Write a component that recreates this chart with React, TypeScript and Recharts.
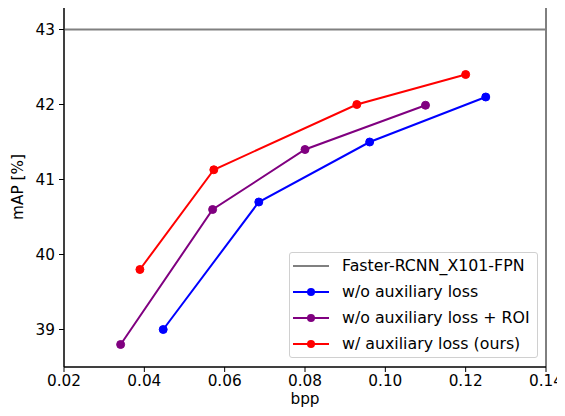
import {
    LineChart,
    Line,
    XAxis,
    YAxis,
    ReferenceLine,
    ReferenceArea,
} from "recharts";

const baselineName = "Faster-RCNN_X101-FPN";
const baselineMap = 43;

const blueBpp = [0.0447, 0.0685, 0.0961, 0.125];
const blueMap = [39.0, 40.7, 41.5, 42.1];

const purpleBpp = [0.0341, 0.057, 0.08, 0.11];
const purpleMap = [38.8, 40.6, 41.4, 41.99];

const redBpp = [0.0389, 0.0573, 0.0929, 0.12];
const redMap = [39.8, 41.13, 42.0, 42.4];

const xTicks = [0.02, 0.04, 0.06, 0.08, 0.1, 0.12, 0.14];
const yTicks = [39, 40, 41, 42, 43];

const series = [
    { name: "w/o auxiliary loss", color: "#0000ff", bpp: blueBpp, map: blueMap },
    { name: "w/o auxiliary loss + ROI", color: "#800080", bpp: purpleBpp, map: purpleMap },
    { name: "w/ auxiliary loss (ours)", color: "#ff0000", bpp: redBpp, map: redMap },
];

const font = "DejaVu Sans, sans-serif";
const fs = 15.3;

const LegendBox = () => (
    <div
        style={{
            position: "absolute",
            left: 289,
            top: 252,
            width: 249,
            height: 106,
            boxSizing: "border-box",
            border: "1px solid #d0d0d0",
            borderRadius: 3,
            background: "rgba(255,255,255,0.8)",
            padding: "0 3px",
            fontFamily: font,
            fontSize: 15.8,
            color: "#000",
            lineHeight: "26px",
            whiteSpace: "nowrap",
        }}
    >
        <div style={{ display: "flex", alignItems: "center" }}>
            <svg width={36} height={12} style={{ marginRight: 13 }}>
                <line x1={0} y1={6} x2={36} y2={6} stroke="#808080" strokeWidth={2} />
            </svg>
            {baselineName}
        </div>
        {series.map((s) => (
            <div key={s.name} style={{ display: "flex", alignItems: "center" }}>
                <svg width={36} height={12} style={{ marginRight: 13 }}>
                    <line x1={0} y1={6} x2={36} y2={6} stroke={s.color} strokeWidth={2} />
                    <circle cx={18} cy={6} r={4} fill={s.color} />
                </svg>
                {s.name}
            </div>
        ))}
    </div>
);

export default function App() {
    return (
        <div style={{ position: "relative", width: 565, height: 416, background: "#fff", margin: -8 }}>
            <LineChart
                width={565}
                height={416}
                margin={{ top: 7, right: 19, left: 0, bottom: 0 }}
            >
                <XAxis
                    type="number"
                    dataKey="bpp"
                    domain={[0.02, 0.14]}
                    ticks={xTicks}
                    tickFormatter={(v: number) => v.toFixed(2)}
                    allowDataOverflow
                    height={49}
                    stroke="#000"
                    tickSize={5}
                    tickMargin={3}
                    tick={{ fill: "#000", fontSize: fs, fontFamily: font }}
                    label={{
                        value: "bpp",
                        position: "insideBottom",
                        offset: 12,
                        fill: "#000",
                        fontSize: fs,
                        fontFamily: font,
                    }}
                />
                <YAxis
                    type="number"
                    dataKey="map"
                    domain={[38.5, 43.3]}
                    ticks={yTicks}
                    allowDataOverflow
                    width={64}
                    stroke="#000"
                    tickSize={5}
                    tickMargin={4}
                    tick={{ fill: "#000", fontSize: fs, fontFamily: font }}
                    label={{
                        value: "mAP [%]",
                        angle: -90,
                        position: "insideLeft",
                        offset: 18,
                        style: { textAnchor: "middle" },
                        fill: "#000",
                        fontSize: fs,
                        fontFamily: font,
                    }}
                />
                <ReferenceArea
                    x1={0.02}
                    x2={0.14}
                    y1={38.5}
                    y2={43.3}
                    fill="none"
                    stroke="#000"
                    strokeWidth={1}
                    fillOpacity={0}
                />
                <ReferenceLine y={baselineMap} stroke="#808080" strokeWidth={2} />
                {series.map((s) => (
                    <Line
                        key={s.name}
                        name={s.name}
                        data={s.bpp.map((b, i) => ({ bpp: b, map: s.map[i] }))}
                        dataKey="map"
                        stroke={s.color}
                        strokeWidth={2}
                        dot={{ r: 4, fill: s.color, stroke: s.color, strokeWidth: 1 }}
                        activeDot={false}
                        isAnimationActive={false}
                    />
                ))}
            </LineChart>
            <LegendBox />
        </div>
    );
}
